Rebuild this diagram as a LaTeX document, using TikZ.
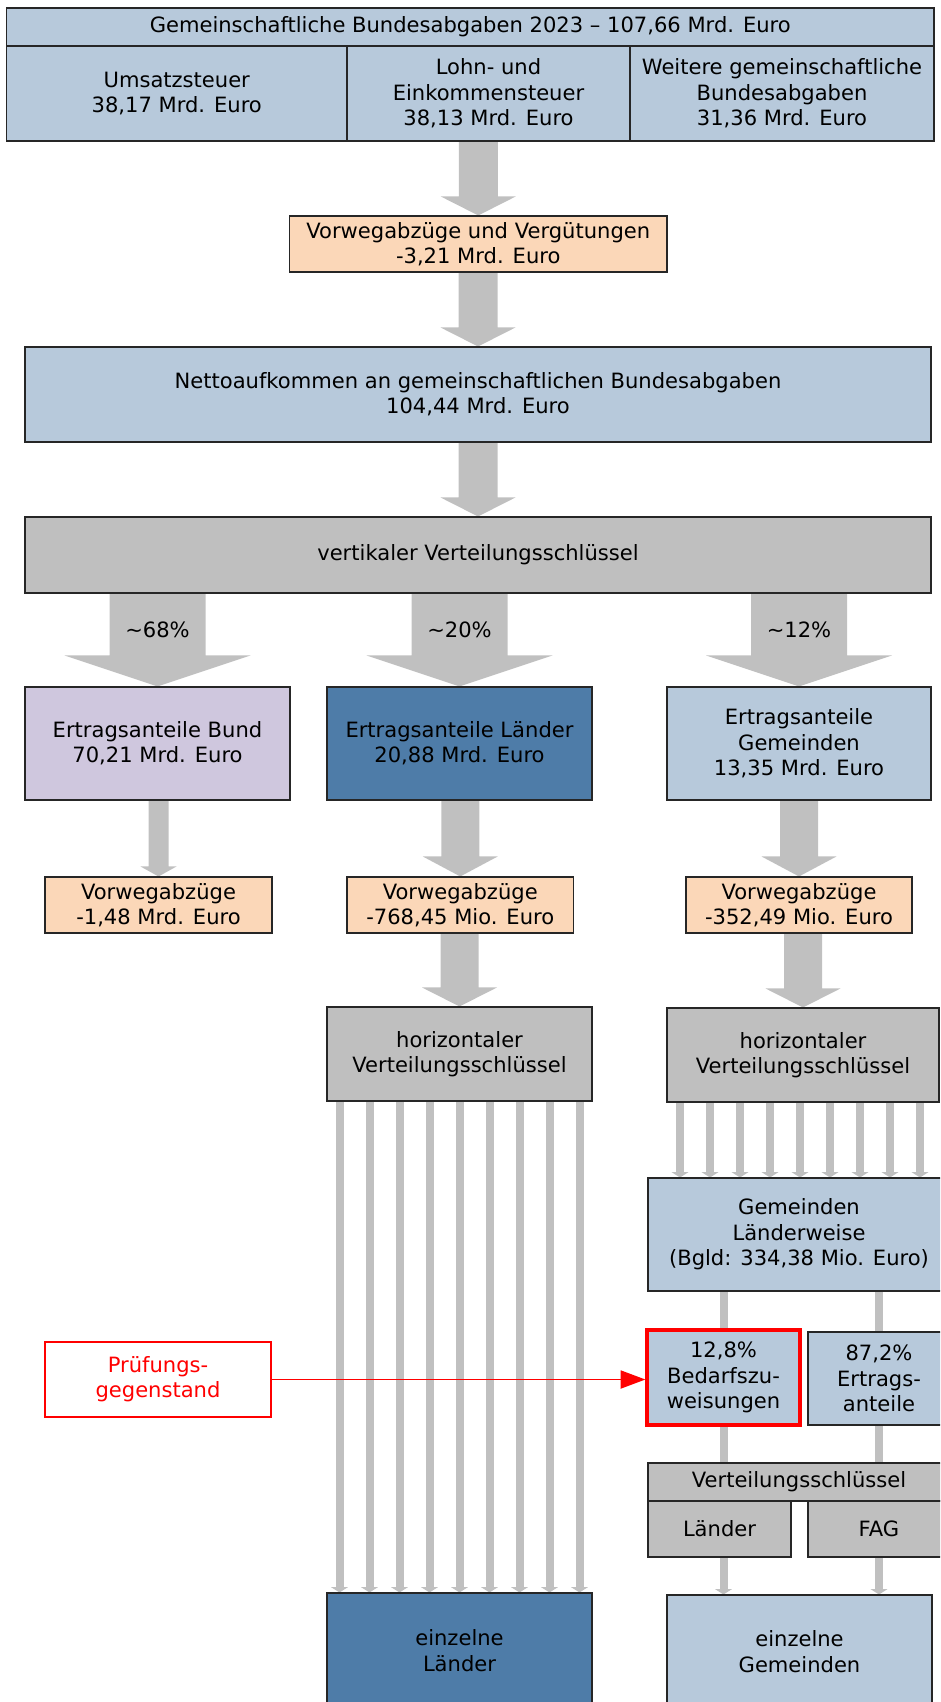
\documentclass[tikz,border=0pt]{standalone}
\usepackage{fontspec}
\setmainfont{DejaVu Sans}
\usetikzlibrary{calc,arrows.meta,backgrounds}

\definecolor{paleblue}{RGB}{183,201,219}
\definecolor{lavender}{RGB}{207,199,222}
\definecolor{steelblue}{RGB}{78,124,168}
\definecolor{peach}{RGB}{251,215,184}
\definecolor{keygray}{RGB}{191,191,191}
\definecolor{flowgray}{RGB}{192,192,192}

\tikzset{
  box/.style={draw=black!85, line width=0.8pt, inner sep=0pt, align=center,
    font=\fontsize{15.8}{19}\selectfont},
  cell/.style n args={4}{minimum width={(#3-#1)*0.75pt}, minimum height={(#4-#2)*0.75pt},
    at={({(#1+#3)/2},{(#2+#4)/2})}},
  pale/.style={box, fill=paleblue},
  bundbox/.style={box, fill=lavender},
  landbox/.style={box, fill=steelblue},
  cutbox/.style={box, fill=peach},
  keybox/.style={box, fill=keygray},
  flowline/.style={draw=flowgray, line width=6pt},
  flowarrow/.style={flowline, -{Triangle[width=12.5pt,length=4pt]}},
  pct/.style={inner sep=0pt, font=\fontsize{15.8}{19}\selectfont}
}

\newcommand{\blockarrow}[5]{%
  \fill[flowgray] ($(#2.north |- #1.south)+(-#3,0)$) -- ($(#2.north)+(-#3,-#5)$)
    -- ($(#2.north)+(-#4,-#5)$) -- (#2.north) -- ($(#2.north)+(#4,-#5)$)
    -- ($(#2.north)+(#3,-#5)$) -- ($(#2.north |- #1.south)+(#3,0)$) -- cycle;}

\begin{document}
\begin{tikzpicture}[x=0.75pt, y=-0.75pt]
  \clip (0,0) rectangle (940,1702);

  \node[pale, cell={6.5}{8}{934}{46}] (head) {Gemeinschaftliche Bundesabgaben 2023 – 107,66 Mrd. Euro};
  \node[pale, cell={6.5}{46}{347}{141}] (ust) {Umsatzsteuer\\38,17 Mrd. Euro};
  \node[pale, cell={347}{46}{630}{141}] (lohn) {Lohn- und\\Einkommensteuer\\38,13 Mrd. Euro};
  \node[pale, cell={630}{46}{934}{141}] (weitere) {Weitere gemeinschaftliche\\Bundesabgaben\\31,36 Mrd. Euro};

  \node[cutbox, cell={289.5}{216}{667}{272}] (vorweg) {Vorwegabzüge und Vergütungen\\-3,21 Mrd. Euro};
  \node[pale, cell={25}{347}{931}{442}] (netto) {Nettoaufkommen an gemeinschaftlichen Bundesabgaben\\104,44 Mrd. Euro};
  \node[keybox, cell={25}{517}{931}{593}] (vert) {vertikaler Verteilungsschlüssel};

  \node[bundbox, cell={25}{687}{290}{800}] (bund) {Ertragsanteile Bund\\70,21 Mrd. Euro};
  \node[landbox, cell={327}{687}{592}{800}] (laender) {Ertragsanteile Länder\\20,88 Mrd. Euro};
  \node[pale, cell={667}{687}{931}{800}] (gemeinden) {Ertragsanteile\\Gemeinden\\13,35 Mrd. Euro};

  \node[cutbox, cell={45}{877}{272}{933}] (vbund) {Vorwegabzüge\\-1,48 Mrd. Euro};
  \node[cutbox, cell={347}{877}{573.5}{933}] (vlaender) {Vorwegabzüge\\-768,45 Mio. Euro};
  \node[cutbox, cell={686}{877}{912}{933}] (vgem) {Vorwegabzüge\\-352,49 Mio. Euro};

  \node[keybox, cell={327}{1007}{592}{1101}] (hl) {horizontaler\\Verteilungsschlüssel};
  \node[keybox, cell={667}{1008}{939}{1102}] (hg) {horizontaler\\Verteilungsschlüssel};

  \node[pale, cell={648}{1178}{950}{1291}] (lw) {Gemeinden\\Länderweise\\(Bgld: 334,38 Mio. Euro)};
  \node[pale, draw=red, line width=2.4pt, cell={647}{1330}{800}{1425}] (bedarf) {12,8\%\\Bedarfszu-\\weisungen};
  \node[pale, cell={808}{1332}{950}{1425}] (ertrag) {87,2\%\\Ertrags-\\anteile};

  \node[keybox, cell={648}{1463}{950}{1501}] (vs) {Verteilungsschlüssel};
  \node[keybox, cell={648}{1501}{791}{1557}] (vl) {Länder};
  \node[keybox, cell={808}{1501}{950}{1557}] (fag) {FAG};

  \node[landbox, cell={327}{1593}{592}{1708}] (el) {einzelne\\Länder};
  \node[pale, cell={667}{1595}{932}{1708}] (eg) {einzelne\\Gemeinden};

  \node[box, draw=red, text=red, line width=2pt, fill=white, cell={45}{1342}{271}{1417}] (pruef) {Prüfungs-\\gegenstand};

  \foreach \p/\y in {bund/68, laender/20, gemeinden/12}
    \node[pct] (pct\p) at (\p.north |- 0,630) {\textasciitilde\y\%};

  \begin{pgfonlayer}{background}
    \foreach \a/\b/\s/\h/\l in {lohn/vorweg/19.5/37.5/19, vorweg/netto/19.5/37.5/19, netto/vert/19.5/37.5/19,
        vert/bund/48/93/31, vert/laender/48/93/31, vert/gemeinden/48/93/31,
        bund/vbund/10/18/10, laender/vlaender/19/37.5/20, gemeinden/vgem/19/37.5/20,
        vlaender/hl/19/37.5/19, vgem/hg/19/37.5/19}
      \blockarrow{\a}{\b}{\s}{\h}{\l};
    \foreach \i in {0,...,8}{
      \pgfmathsetmacro{\dx}{(\i-4)*22.5}
      \draw[flowarrow] ([xshift=\dx pt]hl.south) -- ([xshift=\dx pt]el.north);
    }
    \foreach \x in {680,710,...,920}
      \draw[flowarrow] (hg.south -| \x,0) -- (lw.north -| \x,0);
    \foreach \k/\f in {bedarf/vl, ertrag/fag}{
      \draw[flowline] (lw.south -| \k.north) -- (\k.north);
      \draw[flowline] (\k.south) -- (vs.north -| \k.south);
      \draw[flowarrow] (\f.south -| \k.south) -- (eg.north -| \k.south);
    }
  \end{pgfonlayer}

  \draw[red, line width=1.3pt, -{Triangle[length=18.5pt,width=13.5pt]}] (pruef.east) -- (pruef.east -| bedarf.west);
\end{tikzpicture}
\end{document}
